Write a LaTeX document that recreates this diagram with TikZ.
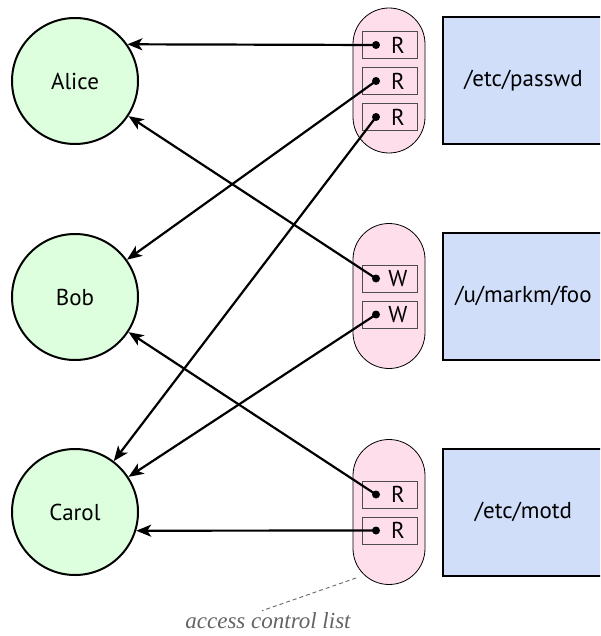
\documentclass[tikz,border=0pt]{standalone}
\usepackage{fontspec}
\setmainfont{PT Sans}
\newfontfamily\notefont{Liberation Serif}
\usetikzlibrary{arrows.meta}
\definecolor{usergreen}{RGB}{222,255,222}
\definecolor{aclpink}{RGB}{255,222,236}
\definecolor{fileblue}{RGB}{208,222,250}
\definecolor{notegray}{RGB}{100,100,100}
\begin{document}
\begin{tikzpicture}[x=1pt,y=-1pt,
  labelfont/.style={font=\fontsize{23}{27}\selectfont},
  user/.style={circle,draw,line width=2pt,fill=usergreen,minimum size=126pt,inner sep=0pt,labelfont},
  acl/.style={draw,line width=0.8pt,fill=aclpink,minimum width=72pt,minimum height=145pt,rounded corners=36pt,inner sep=0pt},
  file/.style={draw,line width=2pt,fill=fileblue,minimum width=161pt,minimum height=127pt,inner sep=0pt,labelfont},
  perm/.style={draw=black!70,line width=0.8pt,minimum width=55pt,minimum height=27pt,inner sep=0pt},
  permtext/.style={inner sep=0pt,labelfont},
  arr/.style={line width=2.2pt,-{Stealth[length=15pt,width=12pt,inset=4pt]}},
  note/.style={inner sep=0pt,text=notegray,font=\notefont\itshape\fontsize{23}{27}\selectfont},
  notelink/.style={draw=black!60,line width=0.9pt,dash pattern=on 4pt off 3pt}
]
\clip (0,0) rectangle (600,636);
\node[user] (alice) at (75,81) {Alice};
\node[user] (bob) at (75,297) {Bob};
\node[user] (carol) at (75,512) {Carol};
\node[acl] (acl1) at (389,80.5) {};
\node[acl] (acl2) at (389,296) {};
\node[acl] (acl3) at (389,512) {};
\node[file] (f1) at (523.5,80.5) {/etc/passwd};
\node[file] (f2) at (523.5,296) {/u/markm/foo};
\node[file] (f3) at (523.5,512) {/etc/motd};
\foreach \n/\y/\t in {p1/45/R, p2/81/R, p3/117/R, p4/278.5/W, p5/314.5/W, p6/494.5/R, p7/530.5/R} {
  \node[perm] (\n) at (389.5,\y) {};
  \node[permtext] (\n-t) at ([xshift=8.5pt]\n.center) {\t};
  \coordinate (\n-d) at ([xshift=-13.5pt]\n.center);
}
\draw[arr] (p1-d) -- (alice.35);
\draw[arr] (p2-d) -- (bob);
\draw[arr] (p3-d) -- (carol);
\draw[arr] (p4-d) -- (alice);
\draw[arr] (p5-d) -- (carol);
\draw[arr] (p6-d) -- (bob);
\draw[arr] (p7-d) -- (carol.-17);
\foreach \n in {p1,p2,p3,p4,p5,p6,p7} {
  \fill (\n-d) circle (4pt);
}
\node[note] (note) at (268,621) {access control list};
\coordinate (noteend) at (356,578);
\draw[notelink] (noteend) -- ([xshift=-6pt,yshift=2pt]note.north);
\end{tikzpicture}
\end{document}
